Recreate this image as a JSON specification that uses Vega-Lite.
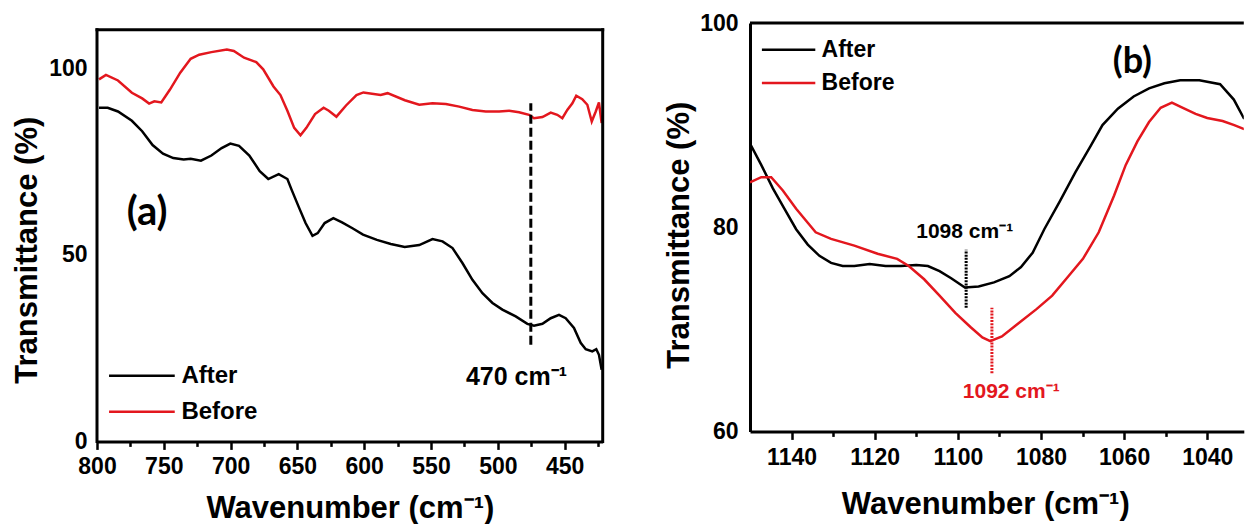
{
  "$schema": "https://vega.github.io/schema/vega-lite/v6.json",
  "padding": {"left": 11, "top": 12, "right": 0, "bottom": 0},
  "spacing": 58,
  "config": {
    "font": "Liberation Sans",
    "view": {"stroke": null},
    "axis": {
      "grid": false,
      "domainColor": "black",
      "domainWidth": 3,
      "tickColor": "black",
      "tickWidth": 2.5,
      "labelFont": "Liberation Sans",
      "labelFontSize": 23,
      "labelFontWeight": "bold",
      "labelColor": "black",
      "labelFlush": false,
      "labelOverlap": false,
      "titleFont": "Liberation Sans",
      "titleFontSize": 31,
      "titleFontWeight": "bold",
      "titleColor": "black"
    }
  },
  "resolve": {"scale": {"color": "independent"}, "legend": {"color": "independent"}},
  "datasets": {
    "a": [
      {"wn": 798.5, "T": 89.4, "s": "After"},
      {"wn": 792.0, "T": 89.4, "s": "After"},
      {"wn": 784.3, "T": 88.4, "s": "After"},
      {"wn": 773.9, "T": 85.9, "s": "After"},
      {"wn": 766.2, "T": 83.1, "s": "After"},
      {"wn": 758.4, "T": 79.4, "s": "After"},
      {"wn": 750.6, "T": 77.1, "s": "After"},
      {"wn": 742.9, "T": 75.9, "s": "After"},
      {"wn": 735.1, "T": 75.5, "s": "After"},
      {"wn": 729.9, "T": 75.7, "s": "After"},
      {"wn": 722.2, "T": 75.2, "s": "After"},
      {"wn": 714.4, "T": 76.6, "s": "After"},
      {"wn": 706.7, "T": 78.6, "s": "After"},
      {"wn": 700.2, "T": 79.8, "s": "After"},
      {"wn": 693.7, "T": 79.2, "s": "After"},
      {"wn": 686.0, "T": 76.6, "s": "After"},
      {"wn": 678.2, "T": 72.4, "s": "After"},
      {"wn": 671.8, "T": 70.3, "s": "After"},
      {"wn": 664.0, "T": 71.6, "s": "After"},
      {"wn": 657.5, "T": 70.3, "s": "After"},
      {"wn": 654.3, "T": 67.4, "s": "After"},
      {"wn": 649.1, "T": 62.9, "s": "After"},
      {"wn": 643.9, "T": 58.5, "s": "After"},
      {"wn": 638.7, "T": 55.1, "s": "After"},
      {"wn": 634.8, "T": 55.8, "s": "After"},
      {"wn": 629.6, "T": 58.5, "s": "After"},
      {"wn": 623.1, "T": 59.8, "s": "After"},
      {"wn": 616.6, "T": 58.7, "s": "After"},
      {"wn": 608.8, "T": 57.1, "s": "After"},
      {"wn": 600.9, "T": 55.4, "s": "After"},
      {"wn": 590.5, "T": 54.0, "s": "After"},
      {"wn": 580.1, "T": 52.9, "s": "After"},
      {"wn": 569.7, "T": 52.1, "s": "After"},
      {"wn": 558.8, "T": 52.6, "s": "After"},
      {"wn": 548.9, "T": 54.2, "s": "After"},
      {"wn": 541.4, "T": 53.6, "s": "After"},
      {"wn": 533.9, "T": 51.8, "s": "After"},
      {"wn": 526.5, "T": 47.8, "s": "After"},
      {"wn": 519.0, "T": 43.3, "s": "After"},
      {"wn": 511.5, "T": 39.7, "s": "After"},
      {"wn": 504.0, "T": 37.1, "s": "After"},
      {"wn": 496.6, "T": 35.3, "s": "After"},
      {"wn": 486.6, "T": 33.5, "s": "After"},
      {"wn": 477.9, "T": 31.5, "s": "After"},
      {"wn": 472.9, "T": 31.0, "s": "After"},
      {"wn": 466.6, "T": 31.5, "s": "After"},
      {"wn": 460.4, "T": 33.0, "s": "After"},
      {"wn": 454.2, "T": 33.9, "s": "After"},
      {"wn": 449.2, "T": 33.0, "s": "After"},
      {"wn": 443.0, "T": 30.4, "s": "After"},
      {"wn": 438.0, "T": 26.4, "s": "After"},
      {"wn": 434.2, "T": 24.7, "s": "After"},
      {"wn": 429.3, "T": 24.1, "s": "After"},
      {"wn": 426.3, "T": 24.7, "s": "After"},
      {"wn": 424.3, "T": 23.2, "s": "After"},
      {"wn": 422.3, "T": 19.2, "s": "After"},
      {"wn": 798.5, "T": 97.0, "s": "Before"},
      {"wn": 793.3, "T": 98.2, "s": "Before"},
      {"wn": 784.3, "T": 96.7, "s": "Before"},
      {"wn": 773.9, "T": 93.4, "s": "Before"},
      {"wn": 766.2, "T": 91.9, "s": "Before"},
      {"wn": 761.0, "T": 90.5, "s": "Before"},
      {"wn": 757.1, "T": 91.1, "s": "Before"},
      {"wn": 751.9, "T": 90.8, "s": "Before"},
      {"wn": 745.5, "T": 94.2, "s": "Before"},
      {"wn": 737.7, "T": 98.8, "s": "Before"},
      {"wn": 729.9, "T": 102.5, "s": "Before"},
      {"wn": 723.5, "T": 103.6, "s": "Before"},
      {"wn": 714.4, "T": 104.3, "s": "Before"},
      {"wn": 702.8, "T": 105.0, "s": "Before"},
      {"wn": 697.6, "T": 104.6, "s": "Before"},
      {"wn": 689.9, "T": 102.8, "s": "Before"},
      {"wn": 680.8, "T": 101.6, "s": "Before"},
      {"wn": 675.6, "T": 99.7, "s": "Before"},
      {"wn": 667.9, "T": 95.1, "s": "Before"},
      {"wn": 662.7, "T": 92.8, "s": "Before"},
      {"wn": 657.5, "T": 88.6, "s": "Before"},
      {"wn": 652.4, "T": 84.0, "s": "Before"},
      {"wn": 647.7, "T": 82.0, "s": "Before"},
      {"wn": 643.3, "T": 84.0, "s": "Before"},
      {"wn": 636.8, "T": 87.7, "s": "Before"},
      {"wn": 630.4, "T": 89.4, "s": "Before"},
      {"wn": 626.5, "T": 88.6, "s": "Before"},
      {"wn": 620.8, "T": 87.0, "s": "Before"},
      {"wn": 613.6, "T": 90.0, "s": "Before"},
      {"wn": 605.8, "T": 92.8, "s": "Before"},
      {"wn": 600.6, "T": 93.5, "s": "Before"},
      {"wn": 587.7, "T": 92.8, "s": "Before"},
      {"wn": 582.5, "T": 93.3, "s": "Before"},
      {"wn": 569.6, "T": 91.4, "s": "Before"},
      {"wn": 558.8, "T": 90.2, "s": "Before"},
      {"wn": 548.9, "T": 90.6, "s": "Before"},
      {"wn": 538.9, "T": 90.4, "s": "Before"},
      {"wn": 528.9, "T": 89.7, "s": "Before"},
      {"wn": 519.0, "T": 88.8, "s": "Before"},
      {"wn": 509.0, "T": 88.4, "s": "Before"},
      {"wn": 499.0, "T": 88.4, "s": "Before"},
      {"wn": 491.5, "T": 88.6, "s": "Before"},
      {"wn": 484.1, "T": 88.2, "s": "Before"},
      {"wn": 476.6, "T": 87.5, "s": "Before"},
      {"wn": 472.9, "T": 86.6, "s": "Before"},
      {"wn": 466.6, "T": 86.9, "s": "Before"},
      {"wn": 460.4, "T": 88.1, "s": "Before"},
      {"wn": 455.5, "T": 87.5, "s": "Before"},
      {"wn": 451.7, "T": 86.6, "s": "Before"},
      {"wn": 448.0, "T": 88.8, "s": "Before"},
      {"wn": 444.2, "T": 90.6, "s": "Before"},
      {"wn": 441.3, "T": 92.6, "s": "Before"},
      {"wn": 436.8, "T": 91.7, "s": "Before"},
      {"wn": 433.0, "T": 90.2, "s": "Before"},
      {"wn": 429.7, "T": 85.7, "s": "Before"},
      {"wn": 426.7, "T": 88.4, "s": "Before"},
      {"wn": 424.3, "T": 90.8, "s": "Before"},
      {"wn": 422.3, "T": 85.3, "s": "Before"}
    ],
    "b": [
      {"wn": 1150.0, "T": 88.2, "s": "After"},
      {"wn": 1147.3, "T": 86.1, "s": "After"},
      {"wn": 1144.5, "T": 83.8, "s": "After"},
      {"wn": 1141.7, "T": 81.8, "s": "After"},
      {"wn": 1138.9, "T": 79.8, "s": "After"},
      {"wn": 1136.1, "T": 78.3, "s": "After"},
      {"wn": 1133.3, "T": 77.2, "s": "After"},
      {"wn": 1130.5, "T": 76.5, "s": "After"},
      {"wn": 1127.7, "T": 76.2, "s": "After"},
      {"wn": 1124.9, "T": 76.2, "s": "After"},
      {"wn": 1121.2, "T": 76.4, "s": "After"},
      {"wn": 1117.4, "T": 76.2, "s": "After"},
      {"wn": 1113.7, "T": 76.2, "s": "After"},
      {"wn": 1110.0, "T": 76.3, "s": "After"},
      {"wn": 1107.2, "T": 76.2, "s": "After"},
      {"wn": 1104.4, "T": 75.7, "s": "After"},
      {"wn": 1101.6, "T": 75.0, "s": "After"},
      {"wn": 1098.3, "T": 74.1, "s": "After"},
      {"wn": 1095.0, "T": 74.2, "s": "After"},
      {"wn": 1091.3, "T": 74.6, "s": "After"},
      {"wn": 1087.6, "T": 75.2, "s": "After"},
      {"wn": 1084.8, "T": 76.1, "s": "After"},
      {"wn": 1082.0, "T": 77.5, "s": "After"},
      {"wn": 1079.2, "T": 79.8, "s": "After"},
      {"wn": 1075.5, "T": 82.5, "s": "After"},
      {"wn": 1071.7, "T": 85.4, "s": "After"},
      {"wn": 1068.0, "T": 88.0, "s": "After"},
      {"wn": 1065.2, "T": 90.0, "s": "After"},
      {"wn": 1061.5, "T": 91.6, "s": "After"},
      {"wn": 1057.7, "T": 92.8, "s": "After"},
      {"wn": 1054.0, "T": 93.6, "s": "After"},
      {"wn": 1050.3, "T": 94.1, "s": "After"},
      {"wn": 1046.5, "T": 94.4, "s": "After"},
      {"wn": 1041.9, "T": 94.4, "s": "After"},
      {"wn": 1036.9, "T": 94.0, "s": "After"},
      {"wn": 1033.6, "T": 92.5, "s": "After"},
      {"wn": 1031.1, "T": 90.6, "s": "After"},
      {"wn": 1150.0, "T": 84.4, "s": "Before"},
      {"wn": 1147.3, "T": 84.9, "s": "Before"},
      {"wn": 1144.9, "T": 84.9, "s": "Before"},
      {"wn": 1142.1, "T": 83.6, "s": "Before"},
      {"wn": 1138.9, "T": 81.8, "s": "Before"},
      {"wn": 1134.2, "T": 79.5, "s": "Before"},
      {"wn": 1130.5, "T": 78.85, "s": "Before"},
      {"wn": 1124.9, "T": 78.2, "s": "Before"},
      {"wn": 1119.3, "T": 77.4, "s": "Before"},
      {"wn": 1114.6, "T": 76.9, "s": "Before"},
      {"wn": 1111.8, "T": 76.2, "s": "Before"},
      {"wn": 1108.1, "T": 74.9, "s": "Before"},
      {"wn": 1104.4, "T": 73.3, "s": "Before"},
      {"wn": 1100.6, "T": 71.6, "s": "Before"},
      {"wn": 1096.9, "T": 70.2, "s": "Before"},
      {"wn": 1094.1, "T": 69.2, "s": "Before"},
      {"wn": 1092.2, "T": 68.85, "s": "Before"},
      {"wn": 1089.4, "T": 69.3, "s": "Before"},
      {"wn": 1085.7, "T": 70.5, "s": "Before"},
      {"wn": 1081.0, "T": 72.0, "s": "Before"},
      {"wn": 1077.3, "T": 73.3, "s": "Before"},
      {"wn": 1073.6, "T": 75.1, "s": "Before"},
      {"wn": 1069.9, "T": 76.9, "s": "Before"},
      {"wn": 1066.1, "T": 79.5, "s": "Before"},
      {"wn": 1062.4, "T": 83.1, "s": "Before"},
      {"wn": 1059.6, "T": 86.1, "s": "Before"},
      {"wn": 1056.8, "T": 88.4, "s": "Before"},
      {"wn": 1054.0, "T": 90.3, "s": "Before"},
      {"wn": 1051.2, "T": 91.7, "s": "Before"},
      {"wn": 1048.5, "T": 92.2, "s": "Before"},
      {"wn": 1046.5, "T": 91.8, "s": "Before"},
      {"wn": 1042.8, "T": 91.1, "s": "Before"},
      {"wn": 1040.0, "T": 90.7, "s": "Before"},
      {"wn": 1036.3, "T": 90.4, "s": "Before"},
      {"wn": 1033.5, "T": 90.0, "s": "Before"},
      {"wn": 1031.1, "T": 89.6, "s": "Before"}
    ]
  },
  "hconcat": [
    {
      "width": 505.7,
      "height": 418.4,
      "resolve": {"axis": {"x": "independent"}},
      "layer": [
        {
          "data": {"name": "a"},
          "mark": {"type": "line", "strokeWidth": 2.5, "clip": true},
          "encoding": {
            "x": {
              "field": "wn", "type": "quantitative",
              "scale": {"domain": [421.5, 800], "reverse": true, "nice": false, "zero": false},
              "axis": {
                "orient": "bottom",
                "values": [800, 750, 700, 650, 600, 550, 500, 450],
                "format": "d",
                "tickSize": 8,
                "labelPadding": 6,
                "title": "Wavenumber (cm⁻¹)",
                "titleY": 76,
                "titleBaseline": "alphabetic"
              }
            },
            "y": {
              "field": "T", "type": "quantitative",
              "scale": {"domain": [0, 112.1], "nice": false, "zero": false},
              "axis": {
                "values": [0, 50, 100],
                "ticks": false,
                "tickSize": 0,
                "domain": false,
                "labelPadding": 10,
                "title": "Transmittance (%)",
                "titleX": -69.8,
                "titleY": 226.7,
                "titleBaseline": "middle"
              }
            },
            "color": {
              "field": "s", "type": "nominal",
              "scale": {"domain": ["After", "Before"], "range": ["#000000", "#e3171e"]},
              "legend": {
                "title": null,
                "orient": "none",
                "legendX": 10.4,
                "legendY": 340.7,
                "padding": 0,
                "symbolType": "stroke",
                "symbolSize": 4316,
                "symbolStrokeWidth": 2.5,
                "clipHeight": 24,
                "rowPadding": 12,
                "labelFont": "Liberation Sans",
                "labelFontSize": 24,
                "labelFontWeight": "bold",
                "labelColor": "black",
                "labelOffset": 5
              }
            }
          }
        },
        {
          "data": {"values": [{}]},
          "mark": {"type": "rule", "strokeWidth": 3, "color": "black", "strokeCap": "square"},
          "encoding": {
            "x": {"datum": 800, "axis": {"orient": "bottom", "values": [775, 725, 675, 625, 575, 525, 475, 425], "labels": false, "domain": false, "tickSize": 5, "title": null}},
            "y": {"datum": 0},
            "y2": {"datum": 110.3}
          }
        },
        {
          "data": {"values": [{}]},
          "mark": {"type": "rule", "strokeWidth": 3, "color": "black", "strokeCap": "square"},
          "encoding": {"x": {"datum": 421.5, "axis": null}, "y": {"datum": 0}, "y2": {"datum": 110.3}}
        },
        {
          "data": {"values": [{}]},
          "mark": {"type": "rule", "strokeWidth": 3, "color": "black", "strokeCap": "square"},
          "encoding": {"x": {"datum": 800, "axis": null}, "x2": {"datum": 421.5}, "y": {"datum": 110.3}}
        },
        {
          "data": {"values": [{}]},
          "mark": {"type": "rule", "strokeWidth": 3, "color": "black", "strokeDash": [9, 4]},
          "encoding": {"x": {"datum": 475.3, "axis": null}, "y": {"datum": 25.9}, "y2": {"datum": 90.6}}
        },
        {
          "data": {"values": [{}]},
          "mark": {"type": "text", "text": "(a)", "font": "Lato", "fontSize": 40, "fontWeight": "bold", "align": "center", "baseline": "middle", "color": "black"},
          "encoding": {"x": {"datum": 762.5, "axis": null}, "y": {"datum": 61.2}}
        },
        {
          "data": {"values": [{}]},
          "mark": {"type": "text", "text": "470 cm⁻¹", "fontSize": 25, "fontWeight": "bold", "align": "left", "baseline": "alphabetic", "color": "black"},
          "encoding": {"x": {"datum": 523.9, "axis": null}, "y": {"datum": 15.2}}
        }
      ]
    },
    {
      "width": 493.8,
      "height": 408.4,
      "resolve": {"axis": {"x": "independent"}},
      "layer": [
        {
          "data": {"name": "b"},
          "mark": {"type": "line", "strokeWidth": 2.5, "clip": true},
          "encoding": {
            "x": {
              "field": "wn", "type": "quantitative",
              "scale": {"domain": [1031.2, 1150], "reverse": true, "nice": false, "zero": false},
              "axis": {
                "orient": "bottom",
                "values": [1140, 1120, 1100, 1080, 1060, 1040],
                "format": "d",
                "tickSize": 8,
                "labelPadding": 7,
                "title": "Wavenumber (cm⁻¹)",
                "titleX": 235.3,
                "titleY": 82,
                "titleBaseline": "alphabetic"
              }
            },
            "y": {
              "field": "T", "type": "quantitative",
              "scale": {"domain": [60, 100], "nice": false, "zero": false},
              "axis": {
                "values": [60, 80, 100],
                "ticks": false,
                "tickSize": 0,
                "labelPadding": 12,
                "title": "Transmittance (%)",
                "titleX": -71,
                "titleY": 211.7,
                "titleBaseline": "middle"
              }
            },
            "color": {
              "field": "s", "type": "nominal",
              "scale": {"domain": ["After", "Before"], "range": ["#000000", "#e3171e"]},
              "legend": {
                "title": null,
                "orient": "none",
                "legendX": 10.6,
                "legendY": 14.7,
                "padding": 0,
                "symbolType": "stroke",
                "symbolSize": 2852,
                "symbolStrokeWidth": 2.5,
                "clipHeight": 24,
                "rowPadding": 9.3,
                "labelFont": "Liberation Sans",
                "labelFontSize": 23,
                "labelFontWeight": "bold",
                "labelColor": "black",
                "labelOffset": 5
              }
            }
          }
        },
        {
          "data": {"values": [{}]},
          "mark": {"type": "rule", "strokeWidth": 3, "color": "black"},
          "encoding": {"y": {"datum": 100}}
        },
        {
          "data": {"values": [{}]},
          "mark": {"type": "rule", "strokeWidth": 3, "color": "black", "strokeDash": [2, 1.2]},
          "encoding": {
            "x": {"datum": 1098.0, "axis": {"orient": "bottom", "values": [1130, 1110, 1090, 1070, 1050], "labels": false, "domain": false, "tickSize": 5, "title": null}},
            "y": {"datum": 72.1},
            "y2": {"datum": 77.8}
          }
        },
        {
          "data": {"values": [{}]},
          "mark": {"type": "rule", "strokeWidth": 3, "color": "#e3171e", "strokeDash": [2, 1.2]},
          "encoding": {"x": {"datum": 1091.8, "axis": null}, "y": {"datum": 65.7}, "y2": {"datum": 72.1}}
        },
        {
          "data": {"values": [{}]},
          "mark": {"type": "text", "text": "(b)", "font": "Lato", "fontSize": 36, "fontWeight": "bold", "align": "center", "baseline": "middle", "color": "black"},
          "encoding": {"x": {"datum": 1058.0, "axis": null}, "y": {"datum": 96.2}}
        },
        {
          "data": {"values": [{}]},
          "mark": {"type": "text", "text": "1098 cm⁻¹", "fontSize": 21, "fontWeight": "bold", "align": "left", "baseline": "alphabetic", "color": "black"},
          "encoding": {"x": {"datum": 1110.0, "axis": null}, "y": {"datum": 78.9}}
        },
        {
          "data": {"values": [{}]},
          "mark": {"type": "text", "text": "1092 cm⁻¹", "fontSize": 21, "fontWeight": "bold", "align": "left", "baseline": "alphabetic", "color": "#e3171e"},
          "encoding": {"x": {"datum": 1098.8, "axis": null}, "y": {"datum": 63.3}}
        }
      ]
    }
  ]
}
